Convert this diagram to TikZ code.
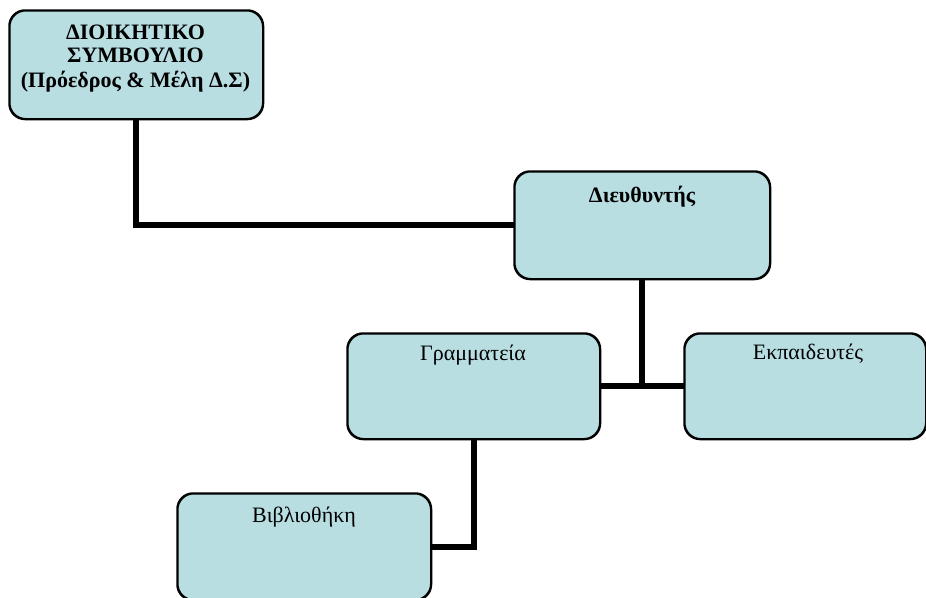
\documentclass[tikz,border=0pt]{standalone}
\usepackage{fontspec}
\setmainfont{Liberation Serif}
\definecolor{boxfill}{HTML}{B8DEE2}
\begin{document}
\begin{tikzpicture}[x=1pt,y=-1pt,
  box/.style={draw=black,line width=1.5pt,fill=boxfill,rounded corners=16pt,anchor=north west,inner sep=0pt},
  conn/.style={line width=6pt},
  lbl/.style={font=\fontsize{22}{25}\selectfont,anchor=base,inner sep=0pt},
  blbl/.style={lbl,font=\fontsize{22}{25}\selectfont\bfseries}]
\fill[white] (0,0) rectangle (926,597);
\useasboundingbox (0,0) rectangle (926,597);
\node[box,minimum width=253pt,minimum height=108pt] (ds) at (9,10) {};
\node[box,minimum width=255pt,minimum height=107pt] (dir) at (514,171) {};
\node[box,minimum width=252pt,minimum height=105pt] (gram) at (347,333) {};
\node[box,minimum width=241pt,minimum height=105pt] (ekp) at (684,333) {};
\node[box,minimum width=253pt,minimum height=106pt] (vivl) at (177,493) {};
\draw[conn] (ds.south) |- (dir.west);
\draw[conn] (dir.south) -- (dir.south |- gram.east);
\draw[conn] (gram.east) -- (ekp.west);
\draw[conn] (gram.south) |- (vivl.east);
\foreach \n in {ds,dir,gram,ekp,vivl}{
  \draw[line width=1.5pt,rounded corners=16pt] (\n.north west) rectangle (\n.south east);
}
\node[blbl] (ds1) at (135.5,39) {ΔΙΟΙΚΗΤΙΚΟ};
\node[blbl] (ds2) at (135.5,62) {ΣΥΜΒΟΥΛΙΟ};
\node[blbl] (ds3) at (135.5,87) {(Πρόεδρος \& Μέλη Δ.Σ)};
\node[blbl] (dirt) at (642,202) {Διευθυντής};
\node[lbl] (gramt) at (473,360) {Γραμματεία};
\node[lbl] (ekpt) at (808,359) {Εκπαιδευτές};
\node[lbl] (vivlt) at (304,522) {Βιβλιοθήκη};
\end{tikzpicture}
\end{document}
